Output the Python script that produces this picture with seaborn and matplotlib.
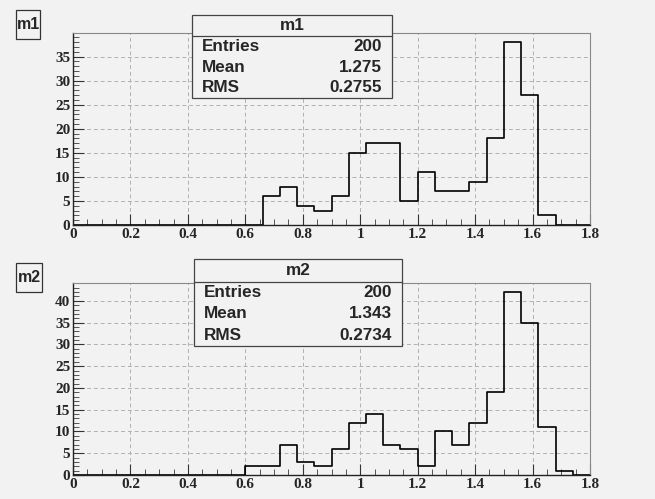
import numpy as np
import pandas as pd
import matplotlib
matplotlib.use("Agg")
import matplotlib.pyplot as plt
from matplotlib.patches import Rectangle
from matplotlib.ticker import MultipleLocator
import seaborn as sns

# ---- data (bin width 0.06 from 0 to 1.8) ----
bin_edges = [round(i * 0.06, 2) for i in range(31)]
m1_counts = [0]*11 + [6, 8, 4, 3, 6, 15, 17, 17, 5, 11, 7, 7, 9, 18, 38, 27, 2, 0, 0]
m2_counts = [0]*10 + [2, 2, 7, 3, 2, 6, 12, 14, 7, 6, 2, 10, 7, 12, 19, 42, 35, 11, 1, 0]
hist_names = ["m1", "m2"]
stats = {
    "m1": ["200", "1.275", "0.2755"],
    "m2": ["200", "1.343", "0.2734"],
}
stat_labels = ["Entries", "Mean", "RMS"]
x_ticks = [0, 0.2, 0.4, 0.6, 0.8, 1, 1.2, 1.4, 1.6, 1.8]
x_tick_labels = ["0", "0.2", "0.4", "0.6", "0.8", "1", "1.2", "1.4", "1.6", "1.8"]

BG = "#f2f2f2"
sns.set_theme(style="white")
plt.rcParams["font.family"] = ["DejaVu Sans"]

fig = plt.figure(figsize=(6.55, 4.99), dpi=100, facecolor=BG)
W, H = 655, 499

def fbox(x0, y0, x1, y1):
    # pixel coords (top-left origin) -> figure fraction rect
    return [x0 / W, 1 - y1 / H, (x1 - x0) / W, (y1 - y0) / H]

panels = [
    dict(name="m1", counts=m1_counts, ax=(73, 33, 590, 225), ymax=39.9, yt=[0, 5, 10, 15, 20, 25, 30, 35],
         label=(16, 10, 40, 39), box=(192, 15, 392, 98), hline=36),
    dict(name="m2", counts=m2_counts, ax=(73, 283, 590, 475), ymax=44.1, yt=[0, 5, 10, 15, 20, 25, 30, 35, 40],
         label=(16, 263, 42, 292), box=(194, 259, 402, 346), hline=282),
]

centers = [(bin_edges[i] + bin_edges[i + 1]) / 2 for i in range(30)]

for p in panels:
    ax = fig.add_axes(fbox(*p["ax"]))
    ax.set_facecolor(BG)
    df = pd.DataFrame({"x": centers, "w": p["counts"]})
    sns.histplot(data=df, x="x", weights="w", bins=bin_edges, element="step",
                 fill=False, color="black", linewidth=1.2, ax=ax)
    ax.set_xlim(0, 1.8)
    ax.set_ylim(0, p["ymax"])
    ax.set_xlabel("")
    ax.set_ylabel("")
    ax.set_xticks(x_ticks)
    ax.set_xticklabels(x_tick_labels)
    ax.set_yticks(p["yt"])
    ax.xaxis.set_minor_locator(MultipleLocator(0.05))
    ax.yaxis.set_minor_locator(MultipleLocator(1))
    ax.grid(True, which="major", linestyle=(0, (4, 3)), color="#b0b0b0", linewidth=0.7)
    ax.set_axisbelow(True)
    ax.tick_params(axis="both", which="major", direction="in", length=8, width=0.8, color="#333333",
                   pad=2, labelsize=11)
    ax.tick_params(axis="both", which="minor", direction="in", length=4, width=0.7, color="#555555")
    ax.tick_params(axis="x", which="both", top=False, bottom=True)
    ax.tick_params(axis="y", which="both", left=True, right=False)
    for lab in ax.get_xticklabels() + ax.get_yticklabels():
        lab.set_fontfamily("Liberation Serif")
        lab.set_fontweight("bold")
    for s in ["left", "bottom"]:
        ax.spines[s].set_color("#222222")
        ax.spines[s].set_linewidth(1.0)
    for s in ["top", "right"]:
        ax.spines[s].set_color("#888888")
        ax.spines[s].set_linewidth(0.8)

    # panel name label box
    lx0, ly0, lx1, ly1 = p["label"]
    fig.patches.append(Rectangle((lx0 / W, 1 - ly1 / H), (lx1 - lx0) / W, (ly1 - ly0) / H,
                                 transform=fig.transFigure, facecolor=BG, edgecolor="#333333",
                                 linewidth=0.9, zorder=5))
    fig.text((lx0 + lx1) / 2 / W, 1 - (ly0 + ly1) / 2 / H, p["name"], ha="center", va="center",
             fontsize=11.5, fontweight="bold", family="Liberation Sans", zorder=6)

    # stats box
    bx0, by0, bx1, by1 = p["box"]
    fig.patches.append(Rectangle((bx0 / W, 1 - by1 / H), (bx1 - bx0) / W, (by1 - by0) / H,
                                 transform=fig.transFigure, facecolor=BG, edgecolor="#444444",
                                 linewidth=0.9, zorder=5))
    hl = p["hline"]
    fig.add_artist(plt.Line2D([bx0 / W, bx1 / W], [1 - hl / H, 1 - hl / H], transform=fig.transFigure,
                              color="#444444", linewidth=0.9, zorder=6))
    fig.text((bx0 + bx1) / 2 / W, 1 - (by0 + hl) / 2 / H, p["name"], ha="center", va="center",
             fontsize=12.3, fontweight="bold", family="Liberation Sans", zorder=7)
    row_h = (by1 - hl) / 3
    for i, (lab, val) in enumerate(zip(stat_labels, stats[p["name"]])):
        yc = 1 - (hl + row_h * (i + 0.5)) / H
        fig.text((bx0 + 10) / W, yc, lab, ha="left", va="center", fontsize=12.3, fontweight="bold",
                 family="Liberation Sans", zorder=7)
        fig.text((bx1 - 10) / W, yc, val, ha="right", va="center", fontsize=12.3, fontweight="bold",
                 family="Liberation Sans", zorder=7)

fig.savefig("out.png", dpi=100, facecolor=BG)
